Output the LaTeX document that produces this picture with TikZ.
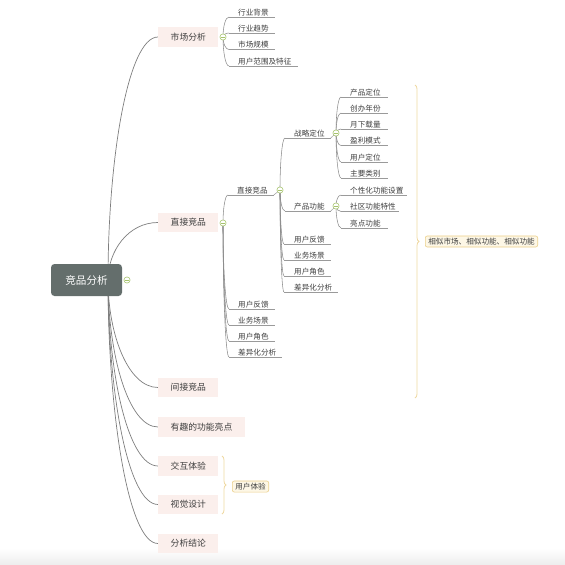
\documentclass[tikz,border=0pt]{standalone}
\usepackage{fontspec}
\newfontfamily\cjk{Noto Sans CJK SC}
\usetikzlibrary{calc,backgrounds,decorations.pathreplacing}
\definecolor{rootfill}{HTML}{646E6C}
\definecolor{pinkfill}{HTML}{FBEFEC}
\definecolor{linegray}{HTML}{8C8C8C}
\definecolor{ulgray}{HTML}{9A9A9A}
\definecolor{btngreen}{HTML}{A6C46C}
\definecolor{braceyellow}{HTML}{EFD9A2}
\definecolor{notefill}{HTML}{FDF7E6}
\definecolor{noteborder}{HTML}{EBCF8A}
\definecolor{txt}{HTML}{3E3E3E}
\tikzset{
 rootbox/.style={fill=rootfill, rounded corners=3.5pt, text=white, font=\cjk\fontsize{10.6}{12}\selectfont, minimum width=71pt, minimum height=32pt, inner sep=0pt},
 topic/.style={fill=pinkfill, anchor=west, font=\cjk\fontsize{8.8}{10}\selectfont, text=txt, inner xsep=12.5pt, inner ysep=0pt, minimum height=19.5pt},
 leaf/.style={anchor=south west, inner xsep=0pt, inner ysep=1.5pt, text depth=0pt, font=\cjk\fontsize{7.6}{9}\selectfont, text=txt},
 btn/.style={circle, draw=btngreen, fill=white, line width=0.6pt, minimum size=6.2pt, inner sep=0pt,
   path picture={\draw[btngreen, line width=0.55pt] ([xshift=-1.7pt]path picture bounding box.center) -- ([xshift=1.7pt]path picture bounding box.center);}},
 conn/.style={draw=linegray, line width=0.55pt,
   to path={.. controls ($(\tikztostart)!0.5!(\tikztostart |- \tikztotarget)$) and ($(\tikztostart |- \tikztotarget)!0.4!(\tikztotarget)$) .. (\tikztotarget)}},
 mainconn/.style={conn, draw=linegray!90!black, line width=0.7pt},
 uline/.style={draw=ulgray, line width=0.5pt},
 bracey/.style={draw=braceyellow, line width=0.8pt, decorate, decoration={brace, amplitude=4pt}},
 note/.style={draw=noteborder, fill=notefill, rounded corners=2pt, line width=0.6pt, font=\cjk\fontsize{7.6}{9}\selectfont, text=txt, inner xsep=3pt, inner ysep=2pt, anchor=west}
}
\begin{document}
\begin{tikzpicture}[x=1pt,y=-1pt]
\useasboundingbox (0,0) rectangle (565,565);
% root
\node[rootbox] (root) at (86.5,280) {竞品分析};
\node[btn] (rb) at (127,280) {};
\coordinate (rs) at (108,280);
% topics
\node[topic] (t1) at (158,37) {市场分析};
\node[topic] (t2) at (158,222.5) {直接竞品};
\node[topic] (t3) at (158,387.5) {间接竞品};
\node[topic] (t4) at (158,427) {有趣的功能亮点};
\node[topic] (t5) at (158,466) {交互体验};
\node[topic] (t6) at (158,504.5) {视觉设计};
\node[topic] (t7) at (158,543.5) {分析结论};
\node[btn] (b1) at (223,37) {};
\node[btn] (b2) at (223,223) {};
% market leaves
\node[leaf] (m1) at (229,17) {\hspace*{9pt}行业背景\hspace*{6pt}};
\node[leaf] (m2) at (229,33) {\hspace*{9pt}行业趋势\hspace*{6pt}};
\node[leaf] (m3) at (229,49.5) {\hspace*{9pt}市场规模\hspace*{6pt}};
\node[leaf] (m4) at (229,66) {\hspace*{9pt}用户范围及特征\hspace*{6pt}};
% direct competitor children
\node[leaf] (d0) at (228,195) {\hspace*{9pt}直接竞品\hspace*{6pt}};
\node[btn] (db) at (280,190) {};
\node[leaf] (d1) at (229,309) {\hspace*{9pt}用户反馈\hspace*{6pt}};
\node[leaf] (d2) at (229,325) {\hspace*{9pt}业务场景\hspace*{6pt}};
\node[leaf] (d3) at (229,341) {\hspace*{9pt}用户角色\hspace*{6pt}};
\node[leaf] (d4) at (229,357) {\hspace*{9pt}差异化分析\hspace*{6pt}};
% level 2 children
\node[leaf] (s0) at (285,138) {\hspace*{9pt}战略定位\hspace*{6pt}};
\node[btn] (sb) at (336,133) {};
\node[leaf] (p0) at (285,211) {\hspace*{9pt}产品功能\hspace*{6pt}};
\node[btn] (pb) at (336,206) {};
\node[leaf] (e1) at (284,244) {\hspace*{10pt}用户反馈\hspace*{6pt}};
\node[leaf] (e2) at (284,260) {\hspace*{10pt}业务场景\hspace*{6pt}};
\node[leaf] (e3) at (284,276) {\hspace*{10pt}用户角色\hspace*{6pt}};
\node[leaf] (e4) at (284,292) {\hspace*{10pt}差异化分析\hspace*{6pt}};
% level 3 children
\node[leaf] (q1) at (341,97) {\hspace*{9pt}产品定位\hspace*{7pt}};
\node[leaf] (q2) at (341,113) {\hspace*{9pt}创办年份\hspace*{7pt}};
\node[leaf] (q3) at (341,129) {\hspace*{9pt}月下载量\hspace*{7pt}};
\node[leaf] (q4) at (341,145.5) {\hspace*{9pt}盈利模式\hspace*{7pt}};
\node[leaf] (q5) at (341,162) {\hspace*{9pt}用户定位\hspace*{7pt}};
\node[leaf] (q6) at (341,178) {\hspace*{9pt}主要类别\hspace*{7pt}};
\node[leaf] (f1) at (341,195) {\hspace*{9pt}个性化功能设置\hspace*{3pt}};
\node[leaf] (f2) at (341,211.5) {\hspace*{9pt}社区功能特性\hspace*{3pt}};
\node[leaf] (f3) at (341,228) {\hspace*{9pt}亮点功能\hspace*{7pt}};
% notes and braces
\coordinate (bt) at (415,85);
\coordinate (bb) at (415,398);
\draw[bracey] (bt) -- (bb);
\node[note] (n1) at (425,241.5) {相似市场、相似功能、相似功能};
\coordinate (ct) at (222,456);
\coordinate (cb) at (222,514);
\draw[bracey] (ct) -- (cb);
\node[note] (n2) at (232,486.5) {用户体验};
% underlines
\foreach \n in {m1,m2,m3,m4,d0,d1,d2,d3,d4,s0,p0,e1,e2,e3,e4,q1,q2,q3,q4,q5,q6,f1,f2,f3}
  \draw[uline] (\n.south west) -- (\n.south east);
\begin{scope}[on background layer]
  \fill[top color=white, bottom color=black!7] (0,548) rectangle (565,565);
  \foreach \t in {t1,t2,t3,t4,t5,t6,t7} \draw[mainconn] (rs) to (\t.west);
  \foreach \t in {m1,m2,m3,m4} \draw[conn] (b1.center) to (\t.south west);
  \foreach \t in {d0,d1,d2,d3,d4} \draw[conn] (b2.center) to (\t.south west);
  \foreach \t in {s0,p0,e1,e2,e3,e4} \draw[conn] (db.center) to (\t.south west);
  \foreach \t in {q1,q2,q3,q4,q5,q6} \draw[conn] (sb.center) to (\t.south west);
  \foreach \t in {f1,f2,f3} \draw[conn] (pb.center) to (\t.south west);
  \draw[uline] (d0.south east) -- (db.center);
  \draw[uline] (s0.south east) -- (sb.center);
  \draw[uline] (p0.south east) -- (pb.center);
\end{scope}
\end{tikzpicture}
\end{document}
